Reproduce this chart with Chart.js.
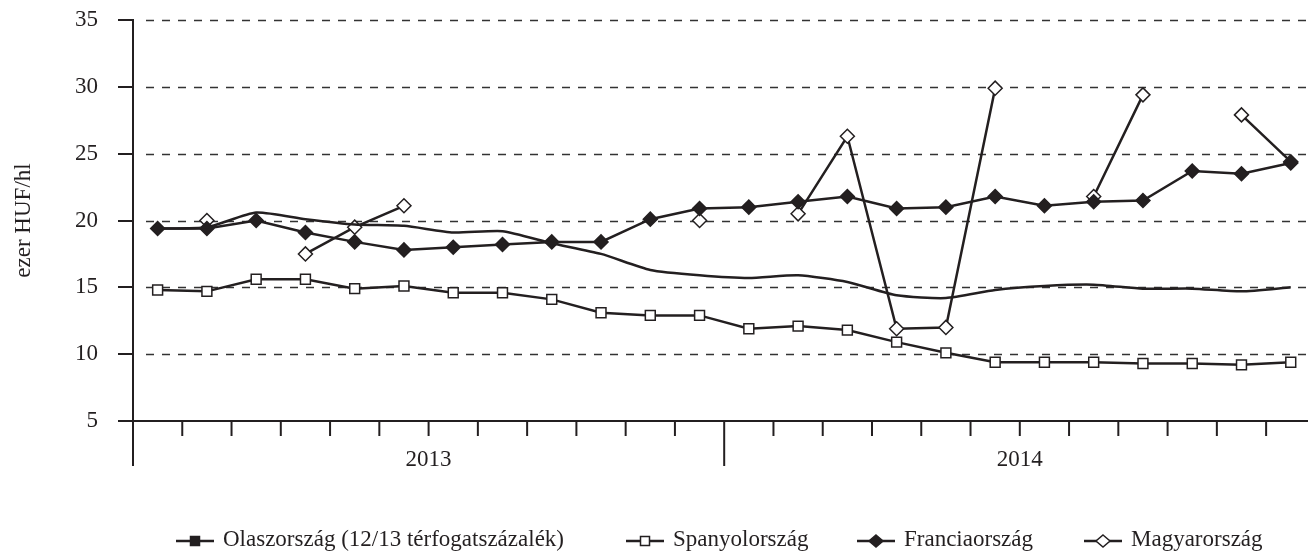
<!DOCTYPE html>
<html>
<head>
<meta charset="utf-8">
<script src="https://cdn.jsdelivr.net/npm/chart.js@4.4.1/dist/chart.umd.min.js"></script>
<style>
  body { margin: 0; background: #fff; }
  #wrap { width: 1308px; height: 554px; }
</style>
</head>
<body>
<div id="wrap"><canvas id="chart" width="1308" height="554"></canvas></div>
<script>
// havi adatok, 2013 jan - 2014 dec
const years = ['2013', '2014'];
const monthsPerYear = 12;

const italy = [19.4, 19.5, 20.6, 20.1, 19.7, 19.6, 19.1, 19.2, 18.3, 17.5, 16.3, 15.9,
               15.7, 15.9, 15.4, 14.4, 14.2, 14.8, 15.1, 15.2, 14.9, 14.9, 14.7, 15.0];
const spain = [14.8, 14.7, 15.6, 15.6, 14.9, 15.1, 14.6, 14.6, 14.1, 13.1, 12.9, 12.9,
               11.9, 12.1, 11.8, 10.9, 10.1, 9.4, 9.4, 9.4, 9.3, 9.3, 9.2, 9.4];
const france = [19.4, 19.4, 20.0, 19.1, 18.4, 17.8, 18.0, 18.2, 18.4, 18.4, 20.1, 20.9,
                21.0, 21.4, 21.8, 20.9, 21.0, 21.8, 21.1, 21.4, 21.5, 23.7, 23.5, 24.3];
const hungary = [null, 20.0, null, 17.5, 19.5, 21.1, null, null, null, null, null, 20.0,
                 null, 20.5, 26.3, 11.9, 12.0, 29.9, null, 21.8, 29.4, null, 27.9, 24.4];

const yTicks = [5, 10, 15, 20, 25, 30, 35];

const ink = '#231f20';
const serif = "'Liberation Serif', 'Times New Roman', serif";

const toPoints = arr => arr.map((v, i) => ({ x: i, y: v }));

// jelmagyarázat elemeinek bal széle
const legendLeft = [176, 626, 857, 1084];

const axesAndLegend = {
  id: 'axesAndLegend',
  beforeDatasetsDraw(chart) {
    const { ctx, chartArea, scales } = chart;
    const y = scales.y;
    ctx.save();
    // szaggatott rácsvonalak
    ctx.strokeStyle = '#333';
    ctx.lineWidth = 1.5;
    ctx.setLineDash([8, 8]);
    yTicks.forEach(t => {
      if (t === y.min) return;
      const py = Math.round(y.getPixelForValue(t)) + 0.5;
      ctx.beginPath();
      ctx.moveTo(chartArea.left + 13, py);
      ctx.lineTo(chartArea.right, py);
      ctx.stroke();
    });
    ctx.restore();
  },
  afterDraw(chart) {
    const { ctx, chartArea, scales } = chart;
    const x = scales.x, y = scales.y;
    const bottom = chartArea.bottom;
    ctx.save();
    ctx.strokeStyle = ink;
    ctx.lineWidth = 2;
    // y osztások
    yTicks.forEach(t => {
      const py = Math.round(y.getPixelForValue(t));
      ctx.beginPath();
      ctx.moveTo(chartArea.left - 15, py);
      ctx.lineTo(chartArea.left, py);
      ctx.stroke();
    });
    // x tengely
    ctx.beginPath();
    ctx.moveTo(chartArea.left - 15, bottom);
    ctx.lineTo(chartArea.right, bottom);
    ctx.stroke();
    // havi osztások, évhatárnál hosszabb
    const total = years.length * monthsPerYear;
    for (let k = 0; k <= total; k++) {
      const px = x.getPixelForValue(k - 0.5);
      if (px > chartArea.right + 1) continue;
      const len = k % monthsPerYear === 0 ? 45 : 15;
      ctx.beginPath();
      ctx.moveTo(px, bottom);
      ctx.lineTo(px, bottom + len);
      ctx.stroke();
    }
    // évek
    ctx.fillStyle = ink;
    ctx.font = '23px ' + serif;
    ctx.textAlign = 'center';
    ctx.textBaseline = 'middle';
    years.forEach((yr, i) => {
      const px = x.getPixelForValue(i * monthsPerYear + (monthsPerYear - 1) / 2);
      ctx.fillText(yr, px, bottom + 39);
    });

    // jelmagyarázat
    const symW = 38, symGap = 9, ly = 541;
    chart.data.datasets.forEach((ds, i) => {
      const cx = legendLeft[i];
      const marker = ds.legendMarker;
      ctx.strokeStyle = ink;
      ctx.lineWidth = 2.5;
      ctx.beginPath();
      ctx.moveTo(cx, ly);
      ctx.lineTo(cx + symW, ly);
      ctx.stroke();
      const mx = cx + symW / 2;
      ctx.lineWidth = 1.5;
      ctx.beginPath();
      if (marker === 'squareFilled' || marker === 'squareOpen') {
        ctx.rect(mx - 4.5, ly - 4.5, 9, 9);
      } else {
        ctx.moveTo(mx, ly - 6);
        ctx.lineTo(mx + 7, ly);
        ctx.lineTo(mx, ly + 6);
        ctx.lineTo(mx - 7, ly);
        ctx.closePath();
      }
      ctx.fillStyle = marker.endsWith('Filled') ? ink : '#fff';
      ctx.fill();
      ctx.stroke();
      ctx.fillStyle = ink;
      ctx.textAlign = 'left';
      ctx.fillText(ds.label, cx + symW + symGap, ly - 1);
    });
    ctx.restore();
  }
};

const ctx = document.getElementById('chart').getContext('2d');

new Chart(ctx, {
  type: 'line',
  data: {
    datasets: [
      {
        label: 'Olaszország (12/13 térfogatszázalék)',
        data: toPoints(italy),
        borderColor: ink,
        borderWidth: 2.5,
        pointRadius: 0,
        tension: 0.2,
        legendMarker: 'squareFilled'
      },
      {
        label: 'Spanyolország',
        data: toPoints(spain),
        borderColor: ink,
        borderWidth: 2.5,
        pointStyle: 'rect',
        pointRadius: 7,
        pointBackgroundColor: '#fff',
        pointBorderColor: ink,
        pointBorderWidth: 1.5,
        legendMarker: 'squareOpen'
      },
      {
        label: 'Franciaország',
        data: toPoints(france),
        borderColor: ink,
        borderWidth: 2.5,
        pointStyle: 'rectRot',
        pointRadius: 7,
        pointBackgroundColor: ink,
        pointBorderColor: ink,
        pointBorderWidth: 1.5,
        legendMarker: 'diamondFilled'
      },
      {
        label: 'Magyarország',
        data: toPoints(hungary),
        borderColor: ink,
        borderWidth: 2.5,
        pointStyle: 'rectRot',
        pointRadius: 7,
        pointBackgroundColor: '#fff',
        pointBorderColor: ink,
        pointBorderWidth: 1.5,
        spanGaps: false,
        legendMarker: 'diamondOpen'
      }
    ]
  },
  options: {
    responsive: false,
    animation: false,
    devicePixelRatio: 1,
    layout: { autoPadding: false, padding: { top: 20, bottom: 133, left: 0, right: 0 } },
    plugins: {
      legend: { display: false },
      tooltip: { enabled: false }
    },
    scales: {
      x: {
        type: 'linear',
        display: false,
        min: -0.5,
        max: 23.35
      },
      y: {
        min: 5,
        max: 35,
        afterFit(scale) { scale.width = 133; },
        afterBuildTicks(scale) { scale.ticks = yTicks.map(v => ({ value: v })); },
        border: { display: true, color: ink, width: 2 },
        grid: {
          display: true,
          drawOnChartArea: false,
          drawTicks: true,
          tickLength: 35,
          tickColor: 'rgba(0,0,0,0)'
        },
        ticks: {
          padding: 0,
          color: ink,
          font: { family: serif, size: 23 }
        },
        title: {
          display: true,
          text: 'ezer HUF/hl',
          color: ink,
          font: { family: serif, size: 23 },
          padding: { top: 10, bottom: 0 }
        }
      }
    }
  },
  plugins: [axesAndLegend]
});
</script>
</body>
</html>
